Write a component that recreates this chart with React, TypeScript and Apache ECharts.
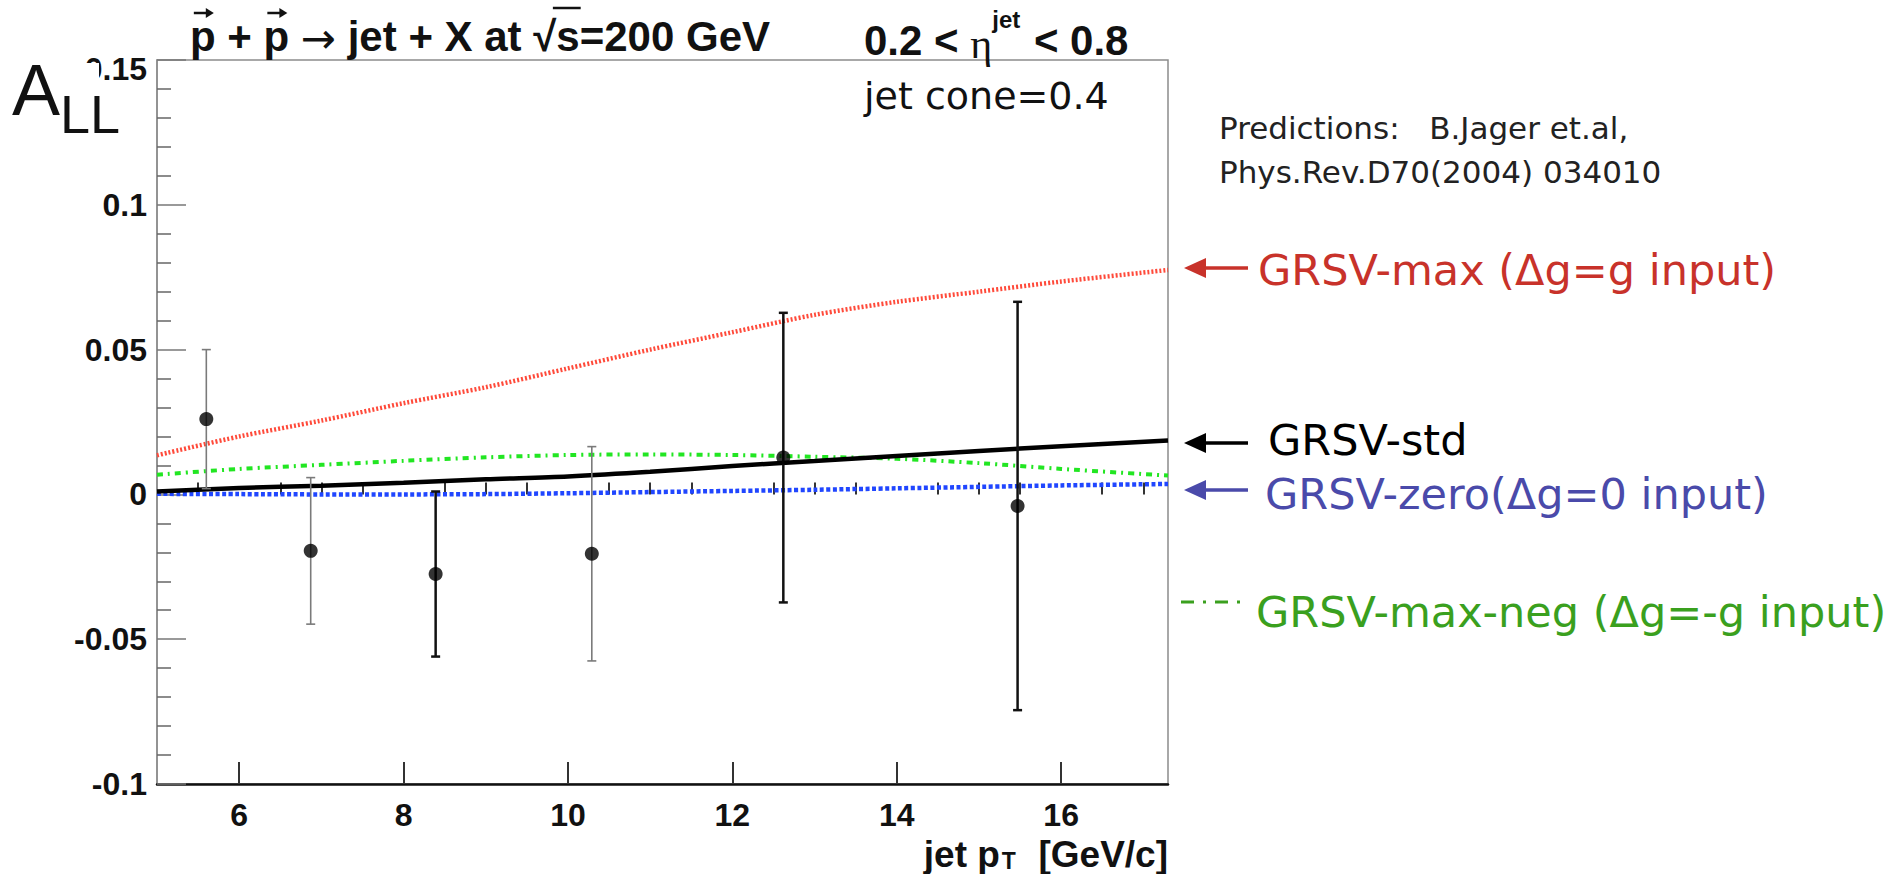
import React, { useEffect, useRef } from "react";
import * as echarts from "echarts";

// Measured double-helicity asymmetry A_LL versus jet pT
const jetPt = [5.6, 6.87, 8.39, 10.29, 12.62, 15.47];
const allValues = [0.026, -0.0195, -0.0275, -0.0205, 0.0127, -0.004];
const allErrors = [0.024, 0.0253, 0.0285, 0.037, 0.05, 0.0705];

// Theory predictions (B. Jager et al.) sampled along pT
const curvePt = [5, 6, 7, 8, 9, 10, 11, 12, 13, 14, 15, 16, 17.3];
const grsvMax = [0.0135, 0.02, 0.0255, 0.0315, 0.037, 0.0435, 0.05, 0.056, 0.062, 0.0665, 0.07, 0.0735, 0.0775];
const grsvStd = [0.001, 0.0022, 0.003, 0.004, 0.0052, 0.0062, 0.0078, 0.0098, 0.0115, 0.0133, 0.015, 0.0166, 0.0186];
const grsvZero = [0.0002, 0.0001, 0.0, 0.0, 0.0001, 0.0004, 0.0008, 0.0012, 0.0016, 0.0021, 0.0026, 0.0031, 0.0036];
const grsvMaxNeg = [0.0068, 0.0088, 0.0102, 0.0116, 0.0128, 0.0136, 0.0138, 0.0136, 0.013, 0.0123, 0.0108, 0.0088, 0.0065];

// Axis ticks
const xMajorTicks = [6, 8, 10, 12, 14, 16];
const xMinorTicks = [5.5, 6.5, 7, 7.5, 8.5, 9, 9.5, 10.5, 11, 11.5, 12.5, 13, 13.5, 14.5, 15, 15.5, 16.5, 17];

const AXIS_FONT = "'Liberation Sans', Arial, Helvetica, sans-serif";
const SERIF_FONT = "'Liberation Serif', 'Times New Roman', serif";
const TEXT_FONT = "'DejaVu Sans', Verdana, sans-serif";

// error bars drawn darker for these bins
const darkBars = [false, false, true, false, true, true];

const pairs = (xs: number[], ys: number[]) => xs.map((x, i) => [x, ys[i]]);

let measureCtx: CanvasRenderingContext2D | null = null;
const textWidth = (font: string, text: string) => {
  if (!measureCtx) measureCtx = document.createElement("canvas").getContext("2d");
  measureCtx!.font = font;
  return measureCtx!.measureText(text).width;
};

export default function App() {
  const ref = useRef<HTMLDivElement>(null);

  useEffect(() => {
    if (!ref.current) return;
    const chart = echarts.init(ref.current, null, { renderer: "svg" });

    const line = (name: string, ys: number[], color: string, width: number, type: any, z: number) => ({
      name,
      type: "line",
      data: pairs(curvePt, ys),
      symbol: "none",
      smooth: 0.3,
      z,
      lineStyle: { color, width, type },
    });

    const txt = (x: number, y: number, text: string, font: string, fill = "#111", align = "left") => ({
      type: "text",
      z: 100,
      x,
      y,
      style: { text, fill, font, textAlign: align, textVerticalAlign: "middle" },
    });

    const arrow = (y: number, color: string) => [
      { type: "line", z: 100, shape: { x1: 1200, y1: y, x2: 1248, y2: y }, style: { stroke: color, lineWidth: 3.5 } },
      {
        type: "polygon",
        z: 100,
        shape: { points: [[1184, y], [1206, y - 10], [1206, y + 10]] },
        style: { fill: color },
      },
    ];

    // small vector arrow drawn over a letter centred at cx
    const vecArrow = (cx: number, y: number) => [
      { type: "line", z: 100, shape: { x1: cx - 9, y1: y, x2: cx + 6, y2: y }, style: { stroke: "#111", lineWidth: 2.5 } },
      {
        type: "polygon",
        z: 100,
        shape: { points: [[cx + 11, y], [cx + 3, y - 5], [cx + 3, y + 5]] },
        style: { fill: "#111" },
      },
    ];

    // title: p + p -> jet + X at sqrt(s)=200 GeV
    const titleFont = `bold 42px ${AXIS_FONT}`;
    const arrowFont = `42px ${TEXT_FONT}`;
    const titleX = 190;
    const titleY = 36;
    const pW = textWidth(titleFont, "p");
    const p1c = titleX + pW / 2;
    const p2c = titleX + textWidth(titleFont, "p + ") + pW / 2;
    const arrX = titleX + textWidth(titleFont, "p + p ");
    const restX = arrX + textWidth(arrowFont, "\u2192");
    const rootStart = restX + textWidth(titleFont, " jet + X at ");
    const rootW = textWidth(titleFont, "\u221A");
    const sW = textWidth(titleFont, "s");

    // pseudorapidity range
    const etaFont = `bold 42px ${AXIS_FONT}`;
    const etaSym = `42px ${SERIF_FONT}`;
    const supFont = `bold 24px ${AXIS_FONT}`;
    const etaX = 864;
    const etaX1 = etaX + textWidth(etaFont, "0.2 < ");
    const etaX2 = etaX1 + textWidth(etaSym, "\u03B7");
    const etaX3 = etaX2 + textWidth(supFont, "jet") + 2;

    // y-axis title
    const aFont = `72px ${AXIS_FONT}`;
    const llFont = `54px ${AXIS_FONT}`;
    const aW = textWidth(aFont, "A");

    // x-axis title, right aligned to the frame
    const xtFont = `bold 37px ${AXIS_FONT}`;
    const subFont = `bold 23px ${AXIS_FONT}`;
    const xtRight = 1168;
    const unitW = textWidth(xtFont, "  [GeV/c]");
    const tW = textWidth(subFont, "T");
    const tX = xtRight - unitW - tW - 2;

    chart.setOption({
      animation: false,
      backgroundColor: "#ffffff",
      grid: {
        left: 157,
        right: 720,
        top: 60,
        bottom: 90,
        show: true,
        borderColor: "#8c8c8c",
        borderWidth: 1.5,
      },
      xAxis: [
        {
          type: "value",
          min: 5,
          max: 17.3,
          position: "bottom",
          splitLine: { show: false },
          axisLine: { show: true, onZero: false, lineStyle: { color: "#111", width: 2.5 } },
          axisTick: {
            show: true,
            inside: true,
            length: 22,
            customValues: xMajorTicks,
            lineStyle: { color: "#333", width: 2 },
          },
          axisLabel: {
            customValues: xMajorTicks,
            margin: 15,
            color: "#111",
            fontFamily: AXIS_FONT,
            fontWeight: "bold",
            fontSize: 32,
          },
        },
        {
          type: "value",
          min: 5,
          max: 17.3,
          position: "bottom",
          splitLine: { show: false },
          axisLine: { show: false },
          axisTick: {
            show: true,
            inside: true,
            length: 12,
            customValues: xMinorTicks,
            lineStyle: { color: "#333", width: 2 },
          },
          axisLabel: { show: false },
        },
      ],
      yAxis: {
        type: "value",
        min: -0.1,
        max: 0.15,
        interval: 0.05,
        splitLine: { show: false },
        axisLine: { show: true, onZero: false, lineStyle: { color: "#8c8c8c", width: 1.5 } },
        axisTick: { show: true, inside: true, length: 29, lineStyle: { color: "#777", width: 1.5 } },
        minorTick: { show: true, splitNumber: 5, length: 14, lineStyle: { color: "#666", width: 1.5 } },
        axisLabel: {
          margin: 10,
          showMinLabel: true,
          showMaxLabel: true,
          color: "#111",
          fontFamily: AXIS_FONT,
          fontWeight: "bold",
          fontSize: 32,
          formatter: (v: number) => {
            const s = String(Math.round(v * 100) / 100);
            return v > 0.149 ? `{top|${s}}` : s;
          },
          rich: {
            top: { fontFamily: AXIS_FONT, fontWeight: "bold", fontSize: 32, padding: [18, 0, 0, 0] },
          },
        },
      },
      series: [
        line("GRSV-zero", grsvZero, "#2046ff", 4.5, [4, 2.5], 2),
        line("GRSV-max-neg", grsvMaxNeg, "#22e622", 4, [6, 5, 2, 5], 3),
        line("GRSV-max", grsvMax, "#ff4a3a", 4.5, [2, 2], 4),
        line("GRSV-std", grsvStd, "#000000", 4.5, "solid", 5),
        {
          name: "errors",
          type: "custom",
          z: 6,
          data: jetPt.map((x, i) => [x, allValues[i], allErrors[i]]),
          encode: { x: 0, y: 1 },
          renderItem: (params: any, api: any) => {
            const x = api.value(0);
            const y = api.value(1);
            const e = api.value(2);
            const top = api.coord([x, y + e]);
            const bot = api.coord([x, y - e]);
            const dark = darkBars[params.dataIndex];
            const style = { stroke: dark ? "#111" : "#7a7a7a", lineWidth: dark ? 2.5 : 1.6 };
            const cap = 4.5;
            return {
              type: "group",
              children: [
                { type: "line", shape: { x1: top[0], y1: top[1], x2: bot[0], y2: bot[1] }, style },
                { type: "line", shape: { x1: top[0] - cap, y1: top[1], x2: top[0] + cap, y2: top[1] }, style },
                { type: "line", shape: { x1: bot[0] - cap, y1: bot[1], x2: bot[0] + cap, y2: bot[1] }, style },
              ],
            };
          },
        },
        {
          name: "STAR",
          type: "scatter",
          z: 7,
          data: pairs(jetPt, allValues),
          symbol: "circle",
          symbolSize: 14,
          itemStyle: { color: "#000" },
        },
      ],
      graphic: [
        // title
        txt(titleX, titleY, "p + p ", titleFont),
        txt(arrX, titleY + 2, "\u2192", arrowFont),
        txt(restX, titleY, " jet + X at \u221As=200 GeV", titleFont),
        ...vecArrow(p1c, 13),
        ...vecArrow(p2c, 13),
        {
          type: "line",
          z: 100,
          shape: { x1: rootStart + rootW * 0.85, y1: 8, x2: rootStart + rootW + sW + 1, y2: 8 },
          style: { stroke: "#111", lineWidth: 2.5 },
        },
        // eta range
        txt(etaX, 40, "0.2 < ", etaFont),
        txt(etaX1, 44, "\u03B7", etaSym),
        txt(etaX2, 19, "jet", supFont),
        txt(etaX3, 40, " < 0.8", etaFont),
        txt(864, 96, "jet cone=0.4", `38px ${TEXT_FONT}`),
        // y axis title
        { type: "rect", z: 90, shape: { x: 78, y: 63, width: 21, height: 30 }, style: { fill: "#fff" } },
        txt(12, 90, "A", aFont),
        txt(12 + aW, 114, "LL", llFont),
        // x axis title
        txt(tX - 2, 854, "jet p", xtFont, "#111", "right"),
        txt(tX, 861, "T", subFont),
        txt(xtRight, 854, "  [GeV/c]", xtFont, "#111", "right"),
        // reference
        txt(1219, 128, "Predictions:   B.Jager et.al,", `31px ${TEXT_FONT}`, "#222"),
        txt(1219, 172, "Phys.Rev.D70(2004) 034010", `31px ${TEXT_FONT}`, "#222"),
        // curve keys
        ...arrow(268, "#c8322a"),
        txt(1258, 270, "GRSV-max (\u0394g=g input)", `43px ${TEXT_FONT}`, "#c8322a"),
        ...arrow(443, "#000"),
        txt(1268, 440, "GRSV-std", `43px ${TEXT_FONT}`, "#000"),
        ...arrow(490, "#4a4aaa"),
        txt(1265, 494, "GRSV-zero(\u0394g=0 input)", `43px ${TEXT_FONT}`, "#4a4aaa"),
        {
          type: "line",
          z: 100,
          shape: { x1: 1181, y1: 602, x2: 1242, y2: 602 },
          style: { stroke: "#3aa01e", lineWidth: 3, lineDash: [13, 9, 3, 9] },
        },
        txt(1256, 612, "GRSV-max-neg (\u0394g=-g input)", `43px ${TEXT_FONT}`, "#3aa01e"),
      ],
    });

    return () => chart.dispose();
  }, []);

  return (
    <div
      ref={ref}
      style={{ position: "absolute", left: 0, top: 0, width: 1888, height: 874, background: "#fff" }}
    />
  );
}
